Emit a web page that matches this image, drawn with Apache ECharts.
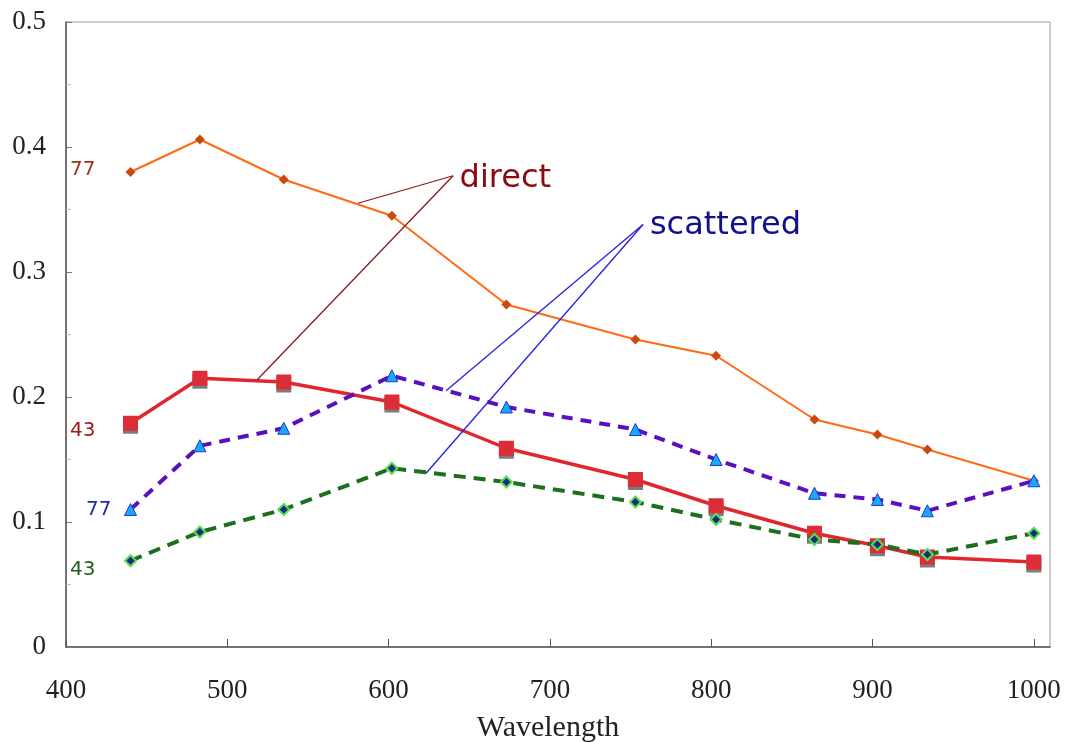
<!DOCTYPE html>
<html>
<head>
<meta charset="utf-8">
<script src="https://cdn.jsdelivr.net/npm/echarts@6/dist/echarts.min.js"></script>
<style>html,body{margin:0;padding:0;background:#fff;}#c{width:1072px;height:742px;}</style>
</head>
<body>
<div id="c"></div>
<script>
// ---- data ----
const wavelengths = [440, 483, 535, 602, 673, 753, 803, 864, 903, 934, 1000];
const direct77    = [0.380, 0.406, 0.374, 0.345, 0.274, 0.246, 0.233, 0.182, 0.170, 0.158, 0.133];
const direct43    = [0.179, 0.215, 0.212, 0.196, 0.159, 0.134, 0.113, 0.091, 0.081, 0.072, 0.068];
const scattered77 = [0.110, 0.161, 0.175, 0.217, 0.192, 0.174, 0.150, 0.123, 0.118, 0.109, 0.133];
const scattered43 = [0.069, 0.092, 0.110, 0.143, 0.132, 0.116, 0.102, 0.086, 0.082, 0.074, 0.091];
const xTickLabels = [400, 500, 600, 700, 800, 900, 1000];
const yTickLabels = [0, 0.1, 0.2, 0.3, 0.4, 0.5];
const xTitle = 'Wavelength';
// annotation texts (data coordinates)
const seriesTags = [
  {text: '77', x: 402.5, y: 0.3816, color: '#9b3318'},
  {text: '43', x: 402.5, y: 0.1728, color: '#a01818'},
  {text: '77', x: 412.4, y: 0.1096, color: '#2a2aa8'},
  {text: '43', x: 402.5, y: 0.0616, color: '#1f5f1f'}
];
const callouts = [
  {text: 'direct', x: 644, y: 0.3745, color: '#8b0a0a', lineColor: '#8b1a1a',
   apex: [640, 0.377], ends: [[581, 0.355], [518.4, 0.2136]]},
  {text: 'scattered', x: 762, y: 0.337, color: '#10108f', lineColor: '#2222e0',
   apex: [757.7, 0.338], ends: [[635.6, 0.205], [623.2, 0.139]]}
];

const pair = arr => wavelengths.map((w, i) => [w, arr[i]]);

const chart = echarts.init(document.getElementById('c'), null, {renderer: 'canvas'});
const axisFont = {fontFamily: 'Liberation Serif', fontSize: 27, color: '#222'};

chart.setOption({
  backgroundColor: '#fff',
  animation: false,
  grid: {left: 66, right: 22, top: 22, bottom: 95, outerBoundsMode: 'none', containLabel: false,
         show: true, borderColor: '#9a9a9a', borderWidth: 1},
  xAxis: {
    type: 'value', min: 400, max: 1010, interval: 100,
    name: xTitle, nameLocation: 'middle', nameGap: 66,
    nameTextStyle: {fontFamily: 'Liberation Serif', fontSize: 30, color: '#222', padding: [0, 20, 0, 0]},
    axisLine: {show: true, lineStyle: {color: '#555', width: 1.5}},
    axisTick: {show: true, inside: true, length: 8, lineStyle: {color: '#555'}, customValues: xTickLabels},
    axisLabel: Object.assign({margin: 30, customValues: xTickLabels, formatter: v => String(v)}, axisFont),
    splitLine: {show: false}
  },
  yAxis: {
    type: 'value', min: 0, max: 0.5, interval: 0.1,
    axisLine: {show: true, lineStyle: {color: '#555', width: 1.5}},
    axisTick: {show: true, inside: true, length: 6, lineStyle: {color: '#777'}},
    minorTick: {show: true, splitNumber: 2, length: 5, lineStyle: {color: '#bbb'}},
    axisLabel: Object.assign({margin: 20, customValues: yTickLabels,
      formatter: v => (Math.round(v * 10) / 10).toString()}, axisFont),
    splitLine: {show: false}
  },
  series: [
    {
      name: '77 direct', type: 'line', data: pair(direct77),
      lineStyle: {color: '#ff6a13', width: 2},
      symbol: 'diamond', symbolSize: 10,
      itemStyle: {color: '#c94a10'}, z: 2
    },
    {
      name: '43 direct', type: 'line', data: pair(direct43),
      lineStyle: {color: '#e0262e', width: 3.5},
      symbol: 'rect', symbolSize: 15,
      itemStyle: {color: '#dc2c36', shadowColor: 'rgba(110,110,110,0.9)', shadowOffsetY: 3, shadowBlur: 0}, z: 3
    },
    {
      name: '77 scattered', type: 'line', data: pair(scattered77),
      lineStyle: {color: '#5a10c0', width: 4, type: [11, 8]},
      symbol: 'triangle', symbolSize: 12,
      itemStyle: {color: '#1aa8ff', borderColor: '#1a3acc', borderWidth: 1}, z: 4
    },
    {
      name: '43 scattered', type: 'line', data: pair(scattered43),
      lineStyle: {color: '#1d6e1d', width: 4, type: [12, 8]},
      symbol: 'diamond', symbolSize: 11,
      itemStyle: {color: '#1a2a80', borderColor: '#55dd55', borderWidth: 2}, z: 5
    }
  ]
});

// annotations placed through the chart's own coordinate conversion
const px = (x, y) => chart.convertToPixel({gridIndex: 0}, [x, y]);
const graphics = [];
seriesTags.forEach(t => {
  const p = px(t.x, t.y);
  graphics.push({type: 'text', x: p[0], y: p[1], z: 100,
    style: {text: t.text, fill: t.color, font: '20px "DejaVu Sans"', textAlign: 'left', textVerticalAlign: 'middle'}});
});
callouts.forEach(c => {
  const a = px(c.apex[0], c.apex[1]);
  c.ends.forEach(e => {
    const b = px(e[0], e[1]);
    graphics.push({type: 'line', z: 90, shape: {x1: a[0], y1: a[1], x2: b[0], y2: b[1]},
      style: {stroke: c.lineColor, lineWidth: 1.3}});
  });
  const p = px(c.x, c.y);
  graphics.push({type: 'text', x: p[0], y: p[1], z: 100,
    style: {text: c.text, fill: c.color, font: '32px "DejaVu Sans"', textAlign: 'left', textVerticalAlign: 'middle'}});
});
chart.setOption({graphic: graphics});
</script>
</body>
</html>
